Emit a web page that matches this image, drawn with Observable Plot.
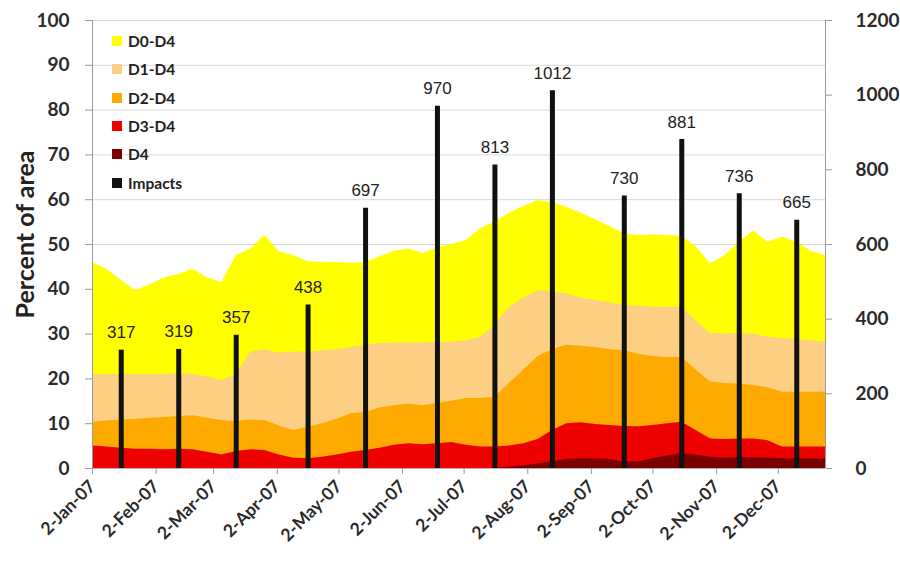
<!DOCTYPE html>
<html><head><meta charset="utf-8">
<script src="https://cdn.jsdelivr.net/npm/d3@7"></script>
<script src="https://cdn.jsdelivr.net/npm/@observablehq/plot@0.6"></script>
<style>
body{margin:0;background:#fff;}
#wrap{position:relative;width:900px;height:562px;overflow:hidden;background:#fff;}
#legend{position:absolute;left:112px;top:27px;font-family:Lato, "Open Sans", sans-serif;font-weight:700;font-size:15.5px;color:#222;}
.item{display:flex;align-items:center;height:28.3px;}
.sw{width:10px;height:10px;margin-right:6px;}
</style></head>
<body><div id="wrap"><div id="legend"></div></div>
<script>
// Weekly US Drought Monitor dates, 2007
const weeks = ["2007-01-02","2007-01-09","2007-01-16","2007-01-23","2007-01-30",
"2007-02-06","2007-02-13","2007-02-20","2007-02-27",
"2007-03-06","2007-03-13","2007-03-20","2007-03-27",
"2007-04-03","2007-04-10","2007-04-17","2007-04-24",
"2007-05-01","2007-05-08","2007-05-15","2007-05-22","2007-05-29",
"2007-06-05","2007-06-12","2007-06-19","2007-06-26",
"2007-07-03","2007-07-10","2007-07-17","2007-07-24","2007-07-31",
"2007-08-07","2007-08-14","2007-08-21","2007-08-28",
"2007-09-04","2007-09-11","2007-09-18","2007-09-25",
"2007-10-02","2007-10-09","2007-10-16","2007-10-23","2007-10-30",
"2007-11-06","2007-11-13","2007-11-20","2007-11-27",
"2007-12-04","2007-12-11","2007-12-18","2007-12-25"];

const d0d4 = [46,44.5,42,39.7,41,42.5,43.3,44.5,42.5,41.5,47.5,49,52,48.3,47.5,46.2,46,46,45.8,46,
47.2,48.5,49,48,49.3,50,50.9,53.5,55,57,58.5,59.8,59.3,58.3,57,55.5,54,52.4,52,52.2,
52,51.8,49.5,45.7,47.5,50.5,53,50.5,51.6,50.5,48.5,47.5];
const d1d4 = [21,21,21,21,21,21,21.2,21,20.5,19.6,21,26,26.5,25.7,26,26,26.3,26.5,27,27.5,
27.9,28,28,28,28.2,28.2,28.5,29.3,32,36,38,39.7,39.5,39,38,37.5,37,36.4,36.2,36,
36,36,33,30.1,30,30.1,30,29.3,29,28.8,28.5,28.2];
const d2d4 = [10.3,10.6,10.8,11,11.2,11.4,11.6,11.8,11.2,10.7,10.5,10.8,10.7,9.5,8.5,9.2,10,11,12.2,12.5,
13.5,14,14.4,14,14.5,15,15.6,15.6,15.9,19,22,25,26.5,27.5,27.3,27,26.5,26.3,25.5,25,
24.8,24.8,22,19.3,19,18.8,18.5,18,17,17,17,17];
const d3d4 = [5,4.8,4.5,4.3,4.3,4.2,4.3,4.2,3.6,3,3.8,4.2,4,3,2.3,2.2,2.5,3,3.6,4,
4.5,5.2,5.5,5.3,5.5,5.8,5.2,4.8,4.8,5,5.5,6.5,8.5,10,10.2,9.8,9.6,9.4,9.3,9.6,
10,10.3,8.5,6.6,6.5,6.6,6.6,6.2,4.8,4.8,4.8,4.8];
const d4 = [0,0,0,0,0,0,0,0,0,0,0,0,0,0,0,0,0,0,0,0,
0,0,0,0,0,0,0,0,0,0.3,0.6,1,1.5,2,2.2,2.2,2,1.4,1.5,2.2,
2.8,3.3,3,2.5,2.3,2.4,2.4,2.3,2.2,2.2,2.2,2.2];

const impactDates = ["2007-01-16","2007-02-13","2007-03-13","2007-04-17","2007-05-15","2007-06-19",
"2007-07-17","2007-08-14","2007-09-18","2007-10-16","2007-11-13","2007-12-11"];
const impacts = [317,319,357,438,697,970,813,1012,730,881,736,665];

const monthTicks = ["2007-01-02","2007-02-02","2007-03-02","2007-04-02","2007-05-02","2007-06-02",
"2007-07-02","2007-08-02","2007-09-02","2007-10-02","2007-11-02","2007-12-02"];
const leftTicks = [0,10,20,30,40,50,60,70,80,90,100];
const rightTicks = [0,200,400,600,800,1000,1200];

const seriesNames = ["D0-D4","D1-D4","D2-D4","D3-D4","D4"];
const seriesColors = ["#FFFF00","#FCCF82","#FFAA00","#EE0000","#7A0000"];
const impactColor = "#111111";

const seriesData = [d0d4,d1d4,d2d4,d3d4,d4];
const rightMax = 1200, leftMax = 100;
const toLeft = v => v * leftMax / rightMax;

const rows = weeks.map((w,i)=>({date:new Date(w)}));
const imp = impactDates.map((d,i)=>({date:new Date(d), v:impacts[i]}));
const fmt = d3.utcFormat("%-d-%b-%y");
const xDomain = [new Date(weeks[0]), new Date(weeks[weeks.length-1])];

const areaMarks = seriesData.map((arr,k)=>Plot.areaY(rows,{x:"date", y:(d,i)=>arr[i], fill:seriesColors[k], curve:"linear"}));

const chart = Plot.plot({
  width:900, height:562,
  marginLeft:92, marginRight:75, marginTop:20, marginBottom:94,
  style:{fontFamily:"Lato, sans-serif", background:"#fff", overflow:"visible"},
  x:{type:"utc", domain:xDomain},
  y:{domain:[0,100]},
  marks:[
    Plot.gridY(leftTicks,{stroke:"#d9d9d9", strokeOpacity:1}),
    ...areaMarks,
    Plot.ruleX(imp,{x:"date", y1:0, y2:d=>toLeft(d.v), stroke:impactColor, strokeWidth:5}),
    Plot.text(imp,{x:"date", y:d=>toLeft(d.v), text:d=>String(d.v), dy:-12, lineAnchor:"bottom",
      fontFamily:"Liberation Sans, Arial, sans-serif", fontSize:17, fill:"#222"}),
    Plot.ruleX([xDomain[0]],{stroke:"#9a9a9a"}),
    Plot.ruleX([xDomain[1]],{stroke:"#9a9a9a"}),
    Plot.ruleY([0],{stroke:"#b0b0b0"}),
    Plot.axisY({anchor:"left", ticks:leftTicks, tickSize:7, tickPadding:16, stroke:"#9a9a9a",
      fontSize:19, fontWeight:"bold", fill:"#2a2a2a", label:null}),
    Plot.axisY({anchor:"right", ticks:rightTicks.map(toLeft), tickFormat:v=>String(Math.round(v*rightMax/leftMax)),
      tickSize:6, tickPadding:24, stroke:"#9a9a9a", fontSize:19, fontWeight:"bold", fill:"#2a2a2a", label:null}),
    Plot.axisX({ticks:monthTicks.map(d=>new Date(d)), tickFormat:fmt, tickRotate:-45, tickSize:6, tickPadding:9,
      stroke:"#9a9a9a", fontSize:17.5, fontWeight:"bold", fill:"#2a2a2a", label:null}),
    Plot.text(["Percent of area"],{frameAnchor:"left", dx:-67, dy:-10, rotate:-90, textAnchor:"middle", text:d=>d,
      fontSize:25, fontWeight:"bold", fill:"#222"})
  ]
});
document.getElementById("wrap").prepend(chart);

const legend = document.getElementById("legend");
const legendItems = seriesNames.map((n,i)=>({name:n,color:seriesColors[i]})).concat([{name:"Impacts",color:impactColor}]);
legendItems.forEach(it=>{
  const row=document.createElement("div"); row.className="item";
  const sw=document.createElement("span"); sw.className="sw"; sw.style.background=it.color;
  const t=document.createElement("span"); t.textContent=it.name;
  row.appendChild(sw); row.appendChild(t); legend.appendChild(row);
});
</script>
</body></html>
